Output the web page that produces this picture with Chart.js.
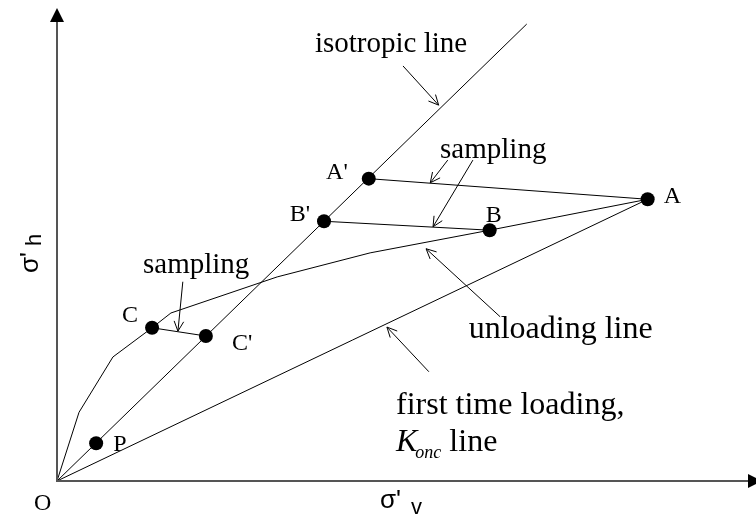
<!DOCTYPE html>
<html>
<head>
<meta charset="utf-8">
<script src="https://cdn.jsdelivr.net/npm/chart.js@4.4.1/dist/chart.umd.min.js"></script>
<style>
  body { margin: 0; background: #fff; }
  canvas { display: block; }
</style>
</head>
<body>
<canvas id="stressPath" width="756" height="525"></canvas>
<script>
// stress states (sigma'v, sigma'h), arbitrary units
var pointNames = ['P', 'C', "C'", "B'", "A'", 'B', 'A'];
var pointX = [5.6, 13.6, 21.3, 38.2, 44.6, 61.9, 84.5];
var pointY = [5.5, 22.3, 21.1, 37.8, 44.0, 36.5, 41.0];

// isotropic line (sigma'h = sigma'v)
var isoX = [0, 67.2];
var isoY = [0, 66.5];

// unloading line from A back to origin
var unloadX = [0, 3.15, 8.0, 13.6, 16.3, 31.5, 44.8, 61.9, 84.5];
var unloadY = [0, 10.0, 18.05, 22.3, 24.45, 29.7, 33.2, 36.5, 41.0];

// first time loading, Konc line
var koncX = [0, 84.5];
var koncY = [0, 41.0];

// sampling paths (from -> to, by point name)
var samplingFrom = ["A'", "B'", 'C'];
var samplingTo = ['A', 'B', "C'"];

// pointer arrows of the annotations
var pointerFromX = [49.5, 55.9, 59.5, 63.4, 53.2, 18.0];
var pointerFromY = [60.4, 46.7, 46.7, 23.9, 15.9, 29.0];
var pointerToX = [54.6, 53.4, 53.8, 52.8, 47.2, 17.3];
var pointerToY = [54.7, 43.4, 37.0, 33.8, 22.4, 21.8];

var noteText = ['isotropic line', 'sampling', 'sampling', 'unloading line', 'first time loading,'];

// layout of the texts (not data)
var noteAt = [[36.9, 62.4], [54.8, 47.0], [12.3, 30.3], [58.9, 20.8], [48.5, 9.75]];
var noteSize = [29, 29, 29, 32, 32];
var koncAt = [48.5, 4.4];
var labelOffset = {
  'P': [17, 8, 'left'], 'C': [-14, -6, 'right'], "C'": [26, 14, 'left'],
  "B'": [-14, 0, 'right'], "A'": [-21, 0, 'right'], 'B': [4, -8, 'center'], 'A': [16, 4, 'left']
};

function xy(xs, ys) {
  return xs.map(function(x, i) { return { x: x, y: ys[i] }; });
}

function pointOf(name) {
  var i = pointNames.indexOf(name);
  return { x: pointX[i], y: pointY[i] };
}

var lineStyle = { showLine: true, borderColor: '#000', borderWidth: 1, pointRadius: 0, fill: false, clip: false };

var datasets = [];
datasets.push(Object.assign({ label: 'isotropic line', data: xy(isoX, isoY) }, lineStyle));
datasets.push(Object.assign({ label: 'unloading line', data: xy(unloadX, unloadY) }, lineStyle));
datasets.push(Object.assign({ label: 'Konc line', data: xy(koncX, koncY) }, lineStyle));
samplingFrom.forEach(function(n, i) {
  datasets.push(Object.assign({ label: 'sampling', data: [pointOf(n), pointOf(samplingTo[i])] }, lineStyle));
});
pointerFromX.forEach(function(x, i) {
  datasets.push(Object.assign({ label: 'pointer', pointer: true,
    data: [{ x: x, y: pointerFromY[i] }, { x: pointerToX[i], y: pointerToY[i] }] }, lineStyle));
});
datasets.push({
  label: 'states', data: xy(pointX, pointY), showLine: false,
  pointRadius: 7, pointHoverRadius: 7, backgroundColor: '#000', borderWidth: 0, clip: false
});

var serif = '"Liberation Serif", "Times New Roman", serif';
var sans = '"Liberation Sans", Arial, sans-serif';

var overlay = {
  id: 'overlay',
  afterDatasetsDraw: function(chart) {
    var ctx = chart.ctx;
    var sx = chart.scales.x, sy = chart.scales.y;
    var area = chart.chartArea;
    var ox = area.left, oy = area.bottom;
    ctx.save();

    // open arrowheads of the pointers
    ctx.strokeStyle = '#000';
    ctx.lineWidth = 1;
    chart.data.datasets.forEach(function(ds, i) {
      if (!ds.pointer) return;
      var pts = chart.getDatasetMeta(i).data;
      var a = pts[0], b = pts[1];
      var ang = Math.atan2(b.y - a.y, b.x - a.x);
      ctx.beginPath();
      ctx.moveTo(b.x - 11 * Math.cos(ang - 0.45), b.y - 11 * Math.sin(ang - 0.45));
      ctx.lineTo(b.x, b.y);
      ctx.lineTo(b.x - 11 * Math.cos(ang + 0.45), b.y - 11 * Math.sin(ang + 0.45));
      ctx.stroke();
    });

    // axes with arrows
    ctx.strokeStyle = '#555';
    ctx.fillStyle = '#000';
    ctx.lineWidth = 2;
    ctx.beginPath();
    ctx.moveTo(ox, 21);
    ctx.lineTo(ox, oy);
    ctx.lineTo(748, oy);
    ctx.stroke();
    ctx.beginPath();
    ctx.moveTo(ox, 8); ctx.lineTo(ox - 7, 22); ctx.lineTo(ox + 7, 22); ctx.closePath();
    ctx.fill();
    ctx.beginPath();
    ctx.moveTo(762, oy); ctx.lineTo(748, oy - 7); ctx.lineTo(748, oy + 7); ctx.closePath();
    ctx.fill();

    // point labels
    ctx.fillStyle = '#000';
    ctx.textBaseline = 'alphabetic';
    ctx.font = '24px ' + serif;
    pointNames.forEach(function(n, i) {
      var off = labelOffset[n];
      ctx.textAlign = off[2];
      ctx.fillText(n, sx.getPixelForValue(pointX[i]) + off[0], sy.getPixelForValue(pointY[i]) + off[1]);
    });
    ctx.textAlign = 'left';
    ctx.fillText('O', ox - 23, oy + 29);

    // annotations
    noteText.forEach(function(t, i) {
      ctx.font = noteSize[i] + 'px ' + serif;
      ctx.fillText(t, sx.getPixelForValue(noteAt[i][0]), sy.getPixelForValue(noteAt[i][1]));
    });
    var kx = sx.getPixelForValue(koncAt[0]), ky = sy.getPixelForValue(koncAt[1]);
    ctx.font = 'italic 32px ' + serif;
    ctx.fillText('K', kx, ky);
    var kw = ctx.measureText('K').width;
    ctx.font = 'italic 18px ' + serif;
    ctx.fillText('onc', kx + kw - 2, ky + 7);
    var sw = ctx.measureText('onc').width;
    ctx.font = '32px ' + serif;
    ctx.fillText(' line', kx + kw - 2 + sw, ky);

    // axis titles
    ctx.font = '26px ' + sans;
    ctx.fillText("\u03c3'", 380, 508);
    ctx.font = '22px ' + sans;
    ctx.fillText('v', 411, 514);

    ctx.translate(38, 273);
    ctx.rotate(-Math.PI / 2);
    ctx.font = '26px ' + sans;
    ctx.fillText("\u03c3'", 0, 0);
    ctx.font = '22px ' + sans;
    ctx.fillText('h', 27, 3);

    ctx.restore();
  }
};

var chart = new Chart(document.getElementById('stressPath').getContext('2d'), {
  type: 'scatter',
  data: { datasets: datasets },
  options: {
    responsive: false,
    animation: false,
    events: [],
    layout: { autoPadding: false, padding: { left: 57, right: 0, top: 0, bottom: 44 } },
    scales: {
      x: { type: 'linear', min: 0, max: 100, display: false },
      y: { type: 'linear', min: 0, max: 70, display: false }
    },
    plugins: {
      legend: { display: false },
      tooltip: { enabled: false }
    }
  },
  plugins: [overlay]
});
</script>
</body>
</html>
